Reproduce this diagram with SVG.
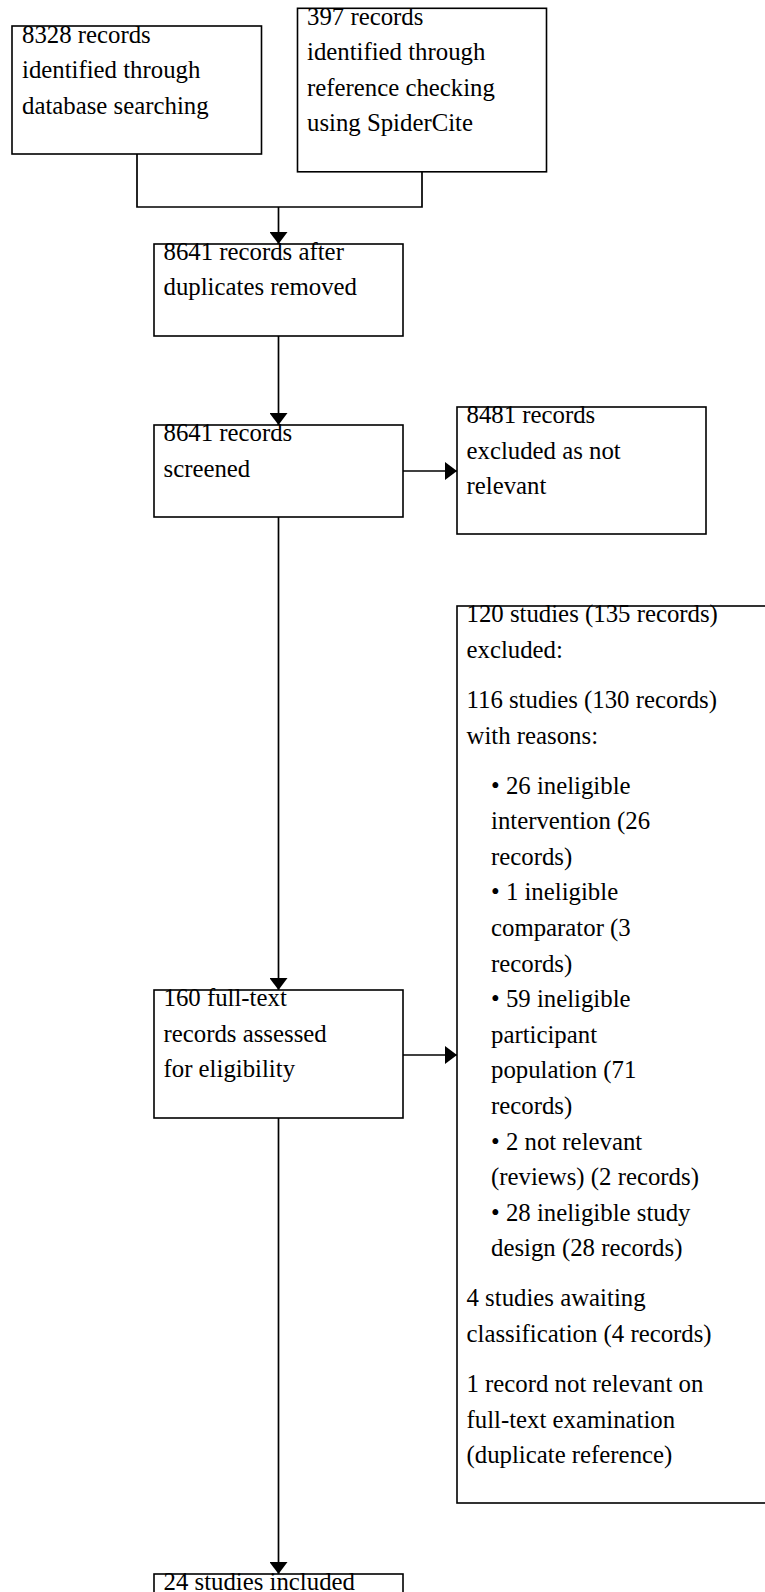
<svg xmlns="http://www.w3.org/2000/svg" width="765" height="1592" viewBox="0 0 765 1592">
<defs>
<style>
.box{fill:#fff;stroke:#000;stroke-width:1.6}
.t{font-family:"Liberation Serif","Times New Roman",serif;font-size:24.8px;fill:#000}
.ln{fill:none;stroke:#000;stroke-width:1.7}
</style>
<marker id="ah" viewBox="0 0 12 18" refX="12" refY="9" markerWidth="12" markerHeight="18" markerUnits="userSpaceOnUse" orient="auto">
<path d="M0,0 L12,9 L0,18 Z" fill="#000"/>
</marker>
</defs>
<rect width="765" height="1592" fill="#fff"/>
<g id="connectors">
<path class="ln" d="M137,154 V207 H422 V172"/>
<path class="ln" d="M278.5,207 V244" marker-end="url(#ah)"/>
<path class="ln" d="M278.5,336 V425" marker-end="url(#ah)"/>
<path class="ln" d="M403,471 H457" marker-end="url(#ah)"/>
<path class="ln" d="M278.5,517 V990" marker-end="url(#ah)"/>
<path class="ln" d="M403,1055 H457" marker-end="url(#ah)"/>
<path class="ln" d="M278.5,1118 V1574" marker-end="url(#ah)"/>
</g>
<g id="n1">
<rect class="box" x="12" y="26" width="249.5" height="128"/>
<text class="t" x="22" y="42.5">8328 records</text>
<text class="t" x="22" y="78">identified through</text>
<text class="t" x="22" y="113.5">database searching</text>
</g>
<g id="n2">
<rect class="box" x="297.5" y="8.3" width="249" height="163.5"/>
<text class="t" x="307" y="24.5">397 records</text>
<text class="t" x="307" y="60">identified through</text>
<text class="t" x="307" y="95.5">reference checking</text>
<text class="t" x="307" y="131">using SpiderCite</text>
</g>
<g id="n3">
<rect class="box" x="154" y="244" width="249" height="92"/>
<text class="t" x="163.5" y="259.5">8641 records after</text>
<text class="t" x="163.5" y="295">duplicates removed</text>
</g>
<g id="n4">
<rect class="box" x="154" y="425" width="249" height="92"/>
<text class="t" x="163.5" y="441">8641 records</text>
<text class="t" x="163.5" y="476.5">screened</text>
</g>
<g id="n5">
<rect class="box" x="457" y="407" width="249" height="127"/>
<text class="t" x="466.5" y="423">8481 records</text>
<text class="t" x="466.5" y="458.5">excluded as not</text>
<text class="t" x="466.5" y="494">relevant</text>
</g>
<g id="n6">
<rect class="box" x="154" y="990" width="249" height="128"/>
<text class="t" x="163.5" y="1006">160 full-text</text>
<text class="t" x="163.5" y="1041.6">records assessed</text>
<text class="t" x="163.5" y="1077.2">for eligibility</text>
</g>
<g id="n7">
<rect class="box" x="457" y="606" width="340" height="897"/>
<text class="t" x="466.5" y="622.3">120 studies (135 records)</text>
<text class="t" x="466.5" y="657.9">excluded:</text>
<text class="t" x="466.5" y="707.9">116 studies (130 records)</text>
<text class="t" x="466.5" y="743.5">with reasons:</text>
<text class="t" x="491" y="793.5">• 26 ineligible</text>
<text class="t" x="491" y="829.1">intervention (26</text>
<text class="t" x="491" y="864.7">records)</text>
<text class="t" x="491" y="900.3">• 1 ineligible</text>
<text class="t" x="491" y="935.9">comparator (3</text>
<text class="t" x="491" y="971.5">records)</text>
<text class="t" x="491" y="1007.1">• 59 ineligible</text>
<text class="t" x="491" y="1042.7">participant</text>
<text class="t" x="491" y="1078.3">population (71</text>
<text class="t" x="491" y="1113.9">records)</text>
<text class="t" x="491" y="1149.5">• 2 not relevant</text>
<text class="t" x="491" y="1185.1">(reviews) (2 records)</text>
<text class="t" x="491" y="1220.7">• 28 ineligible study</text>
<text class="t" x="491" y="1256.3">design (28 records)</text>
<text class="t" x="466.5" y="1306.3">4 studies awaiting</text>
<text class="t" x="466.5" y="1341.9">classification (4 records)</text>
<text class="t" x="466.5" y="1391.9">1 record not relevant on</text>
<text class="t" x="466.5" y="1427.5">full-text examination</text>
<text class="t" x="466.5" y="1463.1">(duplicate reference)</text>
</g>
<g id="n8">
<rect class="box" x="154" y="1574" width="249" height="56"/>
<text class="t" x="163.5" y="1589.5">24 studies included</text>
</g>
</svg>
